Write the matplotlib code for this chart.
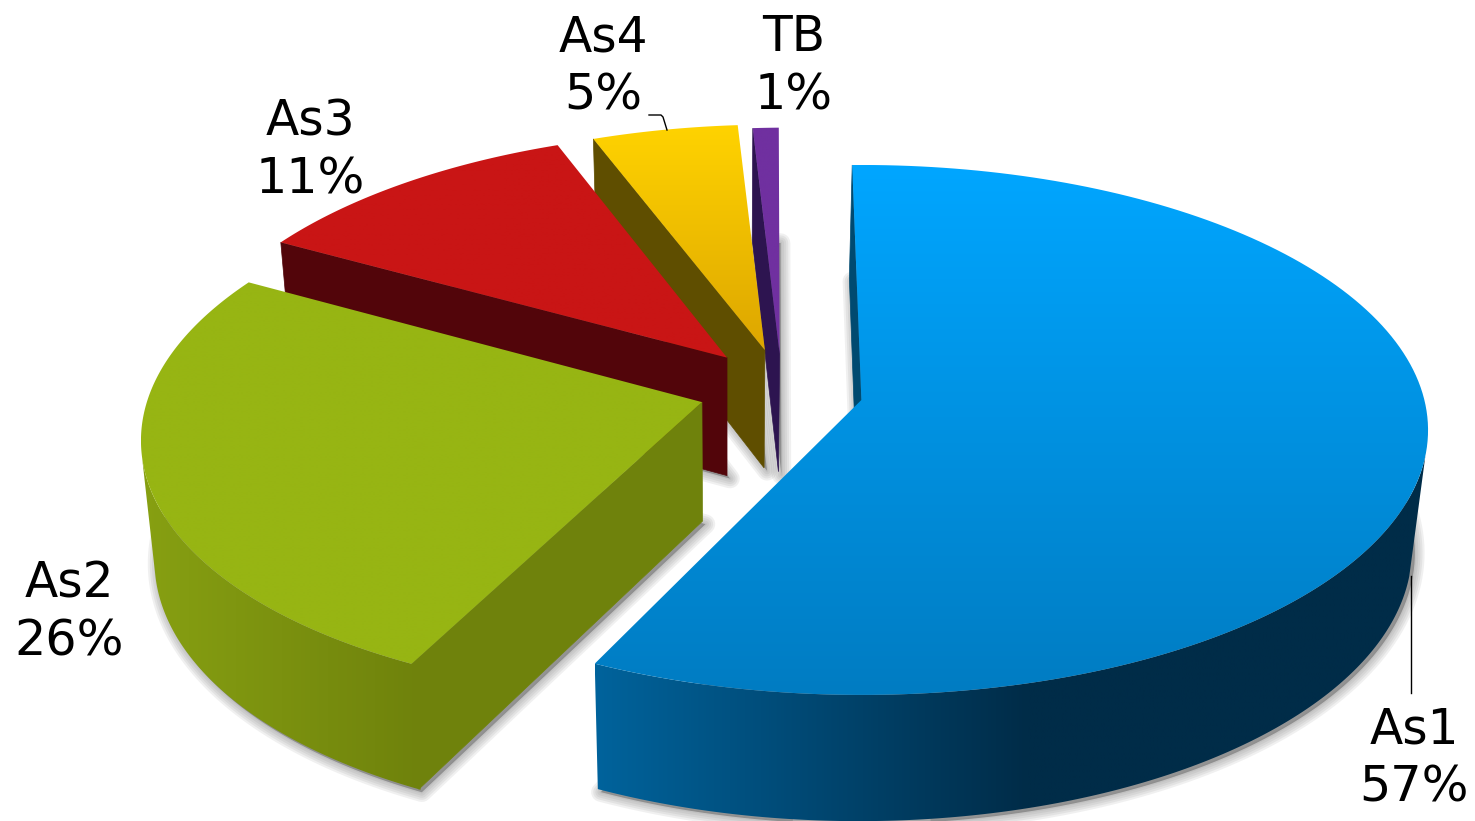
import numpy as np
from matplotlib import pyplot as plt
from matplotlib.colors import to_rgb
from matplotlib.patches import Polygon

labels = ["As1", "As2", "As3", "As4", "TB"]
shares = [57, 26, 11, 5, 1]

# explode offset of each slice on the pie plane (x, depth), and squeeze in x
offsets = [(0.006, 0.0), (-0.277, -0.008), (-0.237, 0.165), (-0.169, 0.195), (-0.142, 0.18)]
squeeze = [1.0, 0.985, 0.985, 0.98, 1.0]
start_pad = [-1.0, 1.0, 0, 0, -0.4]
end_pad = [0, 0, 0, -0.7, -1.0]

top_colors = [("#00a6ff", "#007cc2"), ("#97b513", "#97b513"), ("#c91515", "#c91515"),
              ("#ffd300", "#dda600"), ("#7030a0", "#7030a0")]
wall_colors = [("#00639c", "#002c48"), ("#87a012", "#6f820c"), ("#52050a", "#52050a"),
               ("#5f4e00", "#5f4e00"), ("#2d1450", "#2d1450")]
cut_colors = ["#004a70", "#6f820c", "#52050a", "#5f4e00", "#2d1450"]
# arc of the outer wall that faces the viewer, and where its colour ramp stops
wall_arc = [(102, 205.2), (206, 259), None, None, None]
ramp_stop = [0.52, 1.0, 1.0, 1.0, 1.0]

label_pos = [(1414, 743), (69, 598), (310, 136), (603, 51), (794, 51)]
line_gap = 58

# projection of the pie plane to the picture
CX, K = 858, 0.113
TOP_Y, TOP_A, TOP_B = 400, 563, 261.6
BOT_X, BOT_Y, BOT_A, BOT_B = -3, 519, 550, 268


def project(u, v, plane="top"):
    u, v = np.asarray(u, float), np.asarray(v, float)
    s = 1 + K * v
    if plane == "top":
        return CX + TOP_A * u / s, TOP_Y - TOP_B * v / s
    return CX + BOT_X + BOT_A * u / s, BOT_Y - BOT_B * v / s


def rim(i, a0, a1, plane="top"):
    t = np.radians(np.linspace(a0, a1, 160))
    u = offsets[i][0] + squeeze[i] * np.sin(t)
    v = offsets[i][1] + np.cos(t)
    x, y = project(u, v, plane)
    return np.column_stack([x, y])


def sector(i, a0, a1, plane="top"):
    ax0, ay0 = project(offsets[i][0], offsets[i][1], plane)
    return np.vstack([[ax0, ay0], rim(i, a0, a1, plane)])


def gradient_fill(ax, pts, c0, c1, vertical=True, stop=1.0, zorder=2):
    # linear gradient across the box of the polygon, clipped to it
    c0, c1 = np.array(to_rgb(c0)), np.array(to_rgb(c1))
    f = np.clip(np.linspace(0, 1, 256) / stop, 0, 1)[:, None]
    g = c0 + (c1 - c0) * f
    g = g[:, None, :] if vertical else g[None, :, :]
    x0, x1 = pts[:, 0].min(), pts[:, 0].max()
    y0, y1 = pts[:, 1].min(), pts[:, 1].max()
    im = ax.imshow(g, extent=(x0, x1, y1, y0), origin="upper", aspect="auto",
                   zorder=zorder, interpolation="bilinear")
    patch = Polygon(pts, closed=True, fc="none", ec="none", zorder=zorder)
    ax.add_patch(patch)
    im.set_clip_path(patch)


fig = plt.figure(figsize=(14.75, 8.21), dpi=100)
ax = fig.add_axes([0, 0, 1, 1])

# slice angles, clockwise from the top
edges = np.concatenate([[0], np.cumsum(shares)]) / sum(shares) * 360
z = 2

# shadows go first: blurred copy of each bottom face
for i in range(len(shares)):
    a0, a1 = edges[i] + start_pad[i], edges[i + 1] + end_pad[i]
    pts = sector(i, a0, a1, "bottom") + np.array([3, 3])
    ax.add_patch(Polygon(pts, closed=True, fc="#a8a8a8", ec="none", zorder=1))
    for w in (14, 11, 8, 5, 2):
        ax.add_patch(Polygon(pts, closed=True, fc="none", ec="#707070", lw=w,
                             alpha=0.1, joinstyle="round", zorder=1))

# back to front
for i in [4, 3, 2, 1, 0]:
    a0, a1 = edges[i] + start_pad[i], edges[i + 1] + end_pad[i]
    # cut face along the start angle
    t = sector(i, a0, a0 + 0.01, "top")[:2]
    b = sector(i, a0, a0 + 0.01, "bottom")[:2]
    cut = np.vstack([t, b[::-1]])
    ax.add_patch(Polygon(cut, closed=True, fc=cut_colors[i], ec=cut_colors[i], lw=0.5, zorder=z))
    z += 1
    # outer wall
    if wall_arc[i] is not None:
        w0, w1 = wall_arc[i]
        wall = np.vstack([rim(i, w0, w1, "top"), rim(i, w1, w0, "bottom")])
        gradient_fill(ax, wall, wall_colors[i][0], wall_colors[i][1], vertical=False,
                      stop=ramp_stop[i], zorder=z)
        z += 1
    # top face
    gradient_fill(ax, sector(i, a0, a1, "top"), top_colors[i][0], top_colors[i][1], zorder=z)
    z += 1

# leader lines
ax.plot([1411, 1411], [576, 693], color="black", lw=1.0, zorder=z)
ax.plot([649, 661, 663, 667], [115, 115, 117, 130], color="black", lw=1.0, zorder=z)

for name, share, (x, y) in zip(labels, shares, label_pos):
    ax.text(x, y, name, fontsize=35, ha="center", va="baseline", color="black", zorder=z)
    ax.text(x, y + line_gap, f"{share}%", fontsize=35.5, ha="center", va="baseline",
            color="black", zorder=z)

ax.set_xlim(0, 1475)
ax.set_ylim(821, 0)
ax.axis("off")
fig.savefig("out.png", dpi=100)
